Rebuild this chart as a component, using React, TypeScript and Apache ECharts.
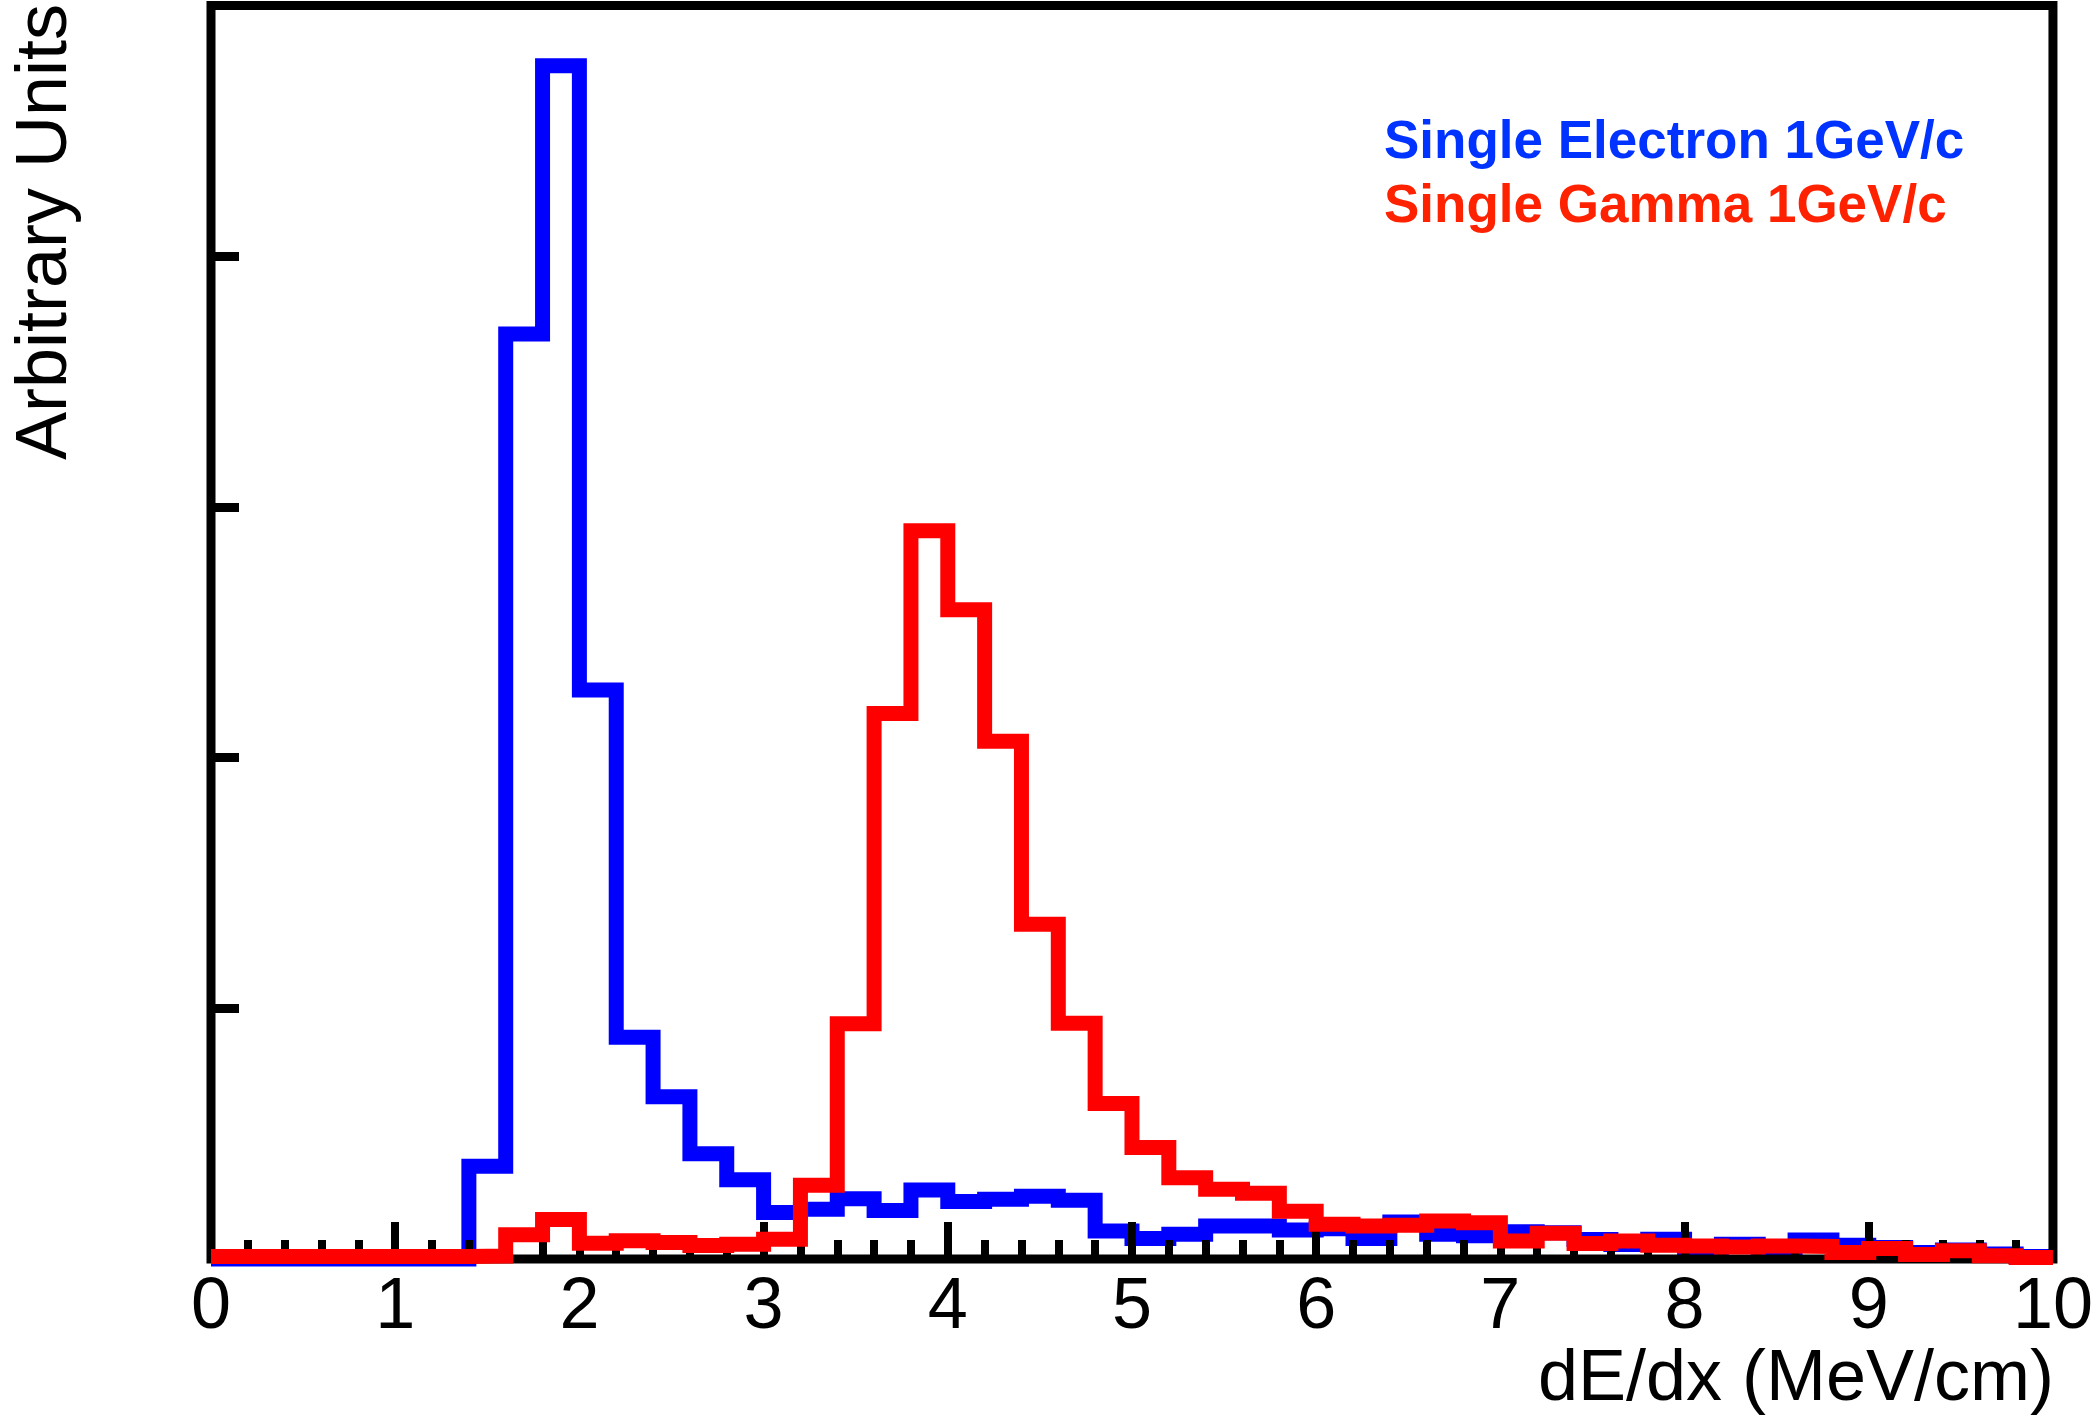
import React, { useEffect, useRef } from 'react';
import * as echarts from 'echarts';

// Histogram: 50 bins of width 0.2 from 0 to 10 (dE/dx, MeV/cm)
const BIN_WIDTH = 0.2;
const X_MIN = 0;
const X_MAX = 10;

// Single Electron 1GeV/c (arbitrary units)
const electron = [
  0, 0, 0, 0, 0, 0, 0, 37, 369, 476,
  227, 88.5, 64.7, 42, 31.6, 18.5, 19.8, 24, 19.3, 27.5,
  22.9, 23.8, 25, 23.4, 11.2, 8.2, 9.9, 13.2, 13.2, 11.6,
  12.1, 8.2, 14.8, 9.9, 9.3, 10.9, 10.5, 7.8, 5.8, 7.9,
  4.6, 5.9, 4.0, 7.6, 5.5, 4.6, 2.6, 3.6, 2.0, 1.0,
];

// Single Gamma 1GeV/c (arbitrary units)
const gamma = [
  1, 1, 1, 1, 1, 1, 1, 1.2, 9.7, 15.8,
  6.3, 7.3, 6.6, 5.4, 5.9, 7.9, 29.4, 93.8, 217.6, 290.5,
  259, 206.5, 133.5, 94, 62, 44.5, 32.4, 27.8, 26.2, 19,
  13.9, 13.2, 13.5, 15.2, 14.5, 7.2, 10.3, 6.2, 7.2, 5.5,
  5.2, 4.8, 5.2, 5.0, 2.6, 4.2, 1.8, 3.3, 1.3, 0.6,
];

const seriesNames = ['Single Electron 1GeV/c', 'Single Gamma 1GeV/c'];
const xTitle = 'dE/dx (MeV/cm)';
const yTitle = 'Arbitrary Units';

const FONT = '"Liberation Sans", Arial, Helvetica, sans-serif';

function stepPoints(values: number[]): number[][] {
  const pts = values.map((v, i) => [+(X_MIN + i * BIN_WIDTH).toFixed(2), v]);
  pts.push([+(X_MIN + values.length * BIN_WIDTH).toFixed(2), values[values.length - 1]]);
  return pts;
}

export default function App() {
  const ref = useRef<HTMLDivElement>(null);

  useEffect(() => {
    if (!ref.current) return;
    const chart = echarts.init(ref.current, undefined, { renderer: 'svg' });
    const option: any = {
      animation: false,
      backgroundColor: '#ffffff',
      grid: {
        show: true,
        left: 211,
        top: 5.5,
        right: 42.5,
        bottom: 156,
        borderColor: '#000000',
        borderWidth: 9,
        backgroundColor: 'transparent',
        z: 2,
      },
      xAxis: {
        type: 'value',
        min: X_MIN,
        max: X_MAX,
        interval: 1,
        z: 2,
        axisLine: { show: false },
        axisTick: { show: true, inside: true, length: 37, lineStyle: { color: '#000', width: 8 } },
        minorTick: { show: true, splitNumber: 5, length: 19, lineStyle: { color: '#000', width: 8 } },
        splitLine: { show: false },
        minorSplitLine: { show: false },
        axisLabel: {
          show: true,
          margin: 15,
          fontSize: 72,
          lineHeight: 58,
          fontFamily: FONT,
          color: '#000',
          showMinLabel: true,
          showMaxLabel: true,
          formatter: (v: number) => String(v),
        },
      },
      yAxis: {
        type: 'value',
        min: 0,
        max: 500,
        interval: 100,
        z: 2,
        axisLine: { show: false },
        axisTick: { show: true, inside: true, length: 28, lineStyle: { color: '#000', width: 9 } },
        axisLabel: { show: false },
        splitLine: { show: false },
      },
      series: [
        {
          type: 'line',
          name: seriesNames[0],
          data: stepPoints(electron),
          step: 'end',
          symbol: 'none',
          showSymbol: false,
          clip: false,
          z: 1,
          lineStyle: { color: '#0000ff', width: 15, join: 'miter', cap: 'butt' },
        },
        {
          type: 'line',
          name: seriesNames[1],
          data: stepPoints(gamma),
          step: 'end',
          symbol: 'none',
          showSymbol: false,
          clip: false,
          z: 3,
          lineStyle: { color: '#ff0000', width: 15, join: 'miter', cap: 'butt' },
        },
      ],
      graphic: [
        {
          type: 'text',
          x: 1384,
          y: 139,
          z: 10,
          style: {
            text: seriesNames[0],
            font: `bold 53px ${FONT}`,
            lineHeight: 50,
            fill: '#0033ff',
            align: 'left',
            verticalAlign: 'middle',
            textAlign: 'left',
            textVerticalAlign: 'middle',
          },
        },
        {
          type: 'text',
          x: 1384,
          y: 203,
          z: 10,
          style: {
            text: seriesNames[1],
            font: `bold 53px ${FONT}`,
            lineHeight: 50,
            fill: '#ff2200',
            align: 'left',
            verticalAlign: 'middle',
            textAlign: 'left',
            textVerticalAlign: 'middle',
          },
        },
        {
          type: 'text',
          x: 2054,
          y: 1375,
          z: 10,
          style: {
            text: xTitle,
            font: `72px ${FONT}`,
            lineHeight: 58,
            fill: '#000',
            align: 'right',
            verticalAlign: 'middle',
            textAlign: 'right',
            textVerticalAlign: 'middle',
          },
        },
        {
          type: 'text',
          x: 41,
          y: 4,
          rotation: Math.PI / 2,
          z: 10,
          style: {
            text: yTitle,
            font: `72px ${FONT}`,
            lineHeight: 58,
            fill: '#000',
            align: 'right',
            verticalAlign: 'middle',
            textAlign: 'right',
            textVerticalAlign: 'middle',
          },
        },
      ],
    };
    chart.setOption(option);
    return () => chart.dispose();
  }, []);

  return (
    <div
      ref={ref}
      style={{ position: 'absolute', left: 0, top: 0, width: 2096, height: 1415, background: '#fff' }}
    />
  );
}
